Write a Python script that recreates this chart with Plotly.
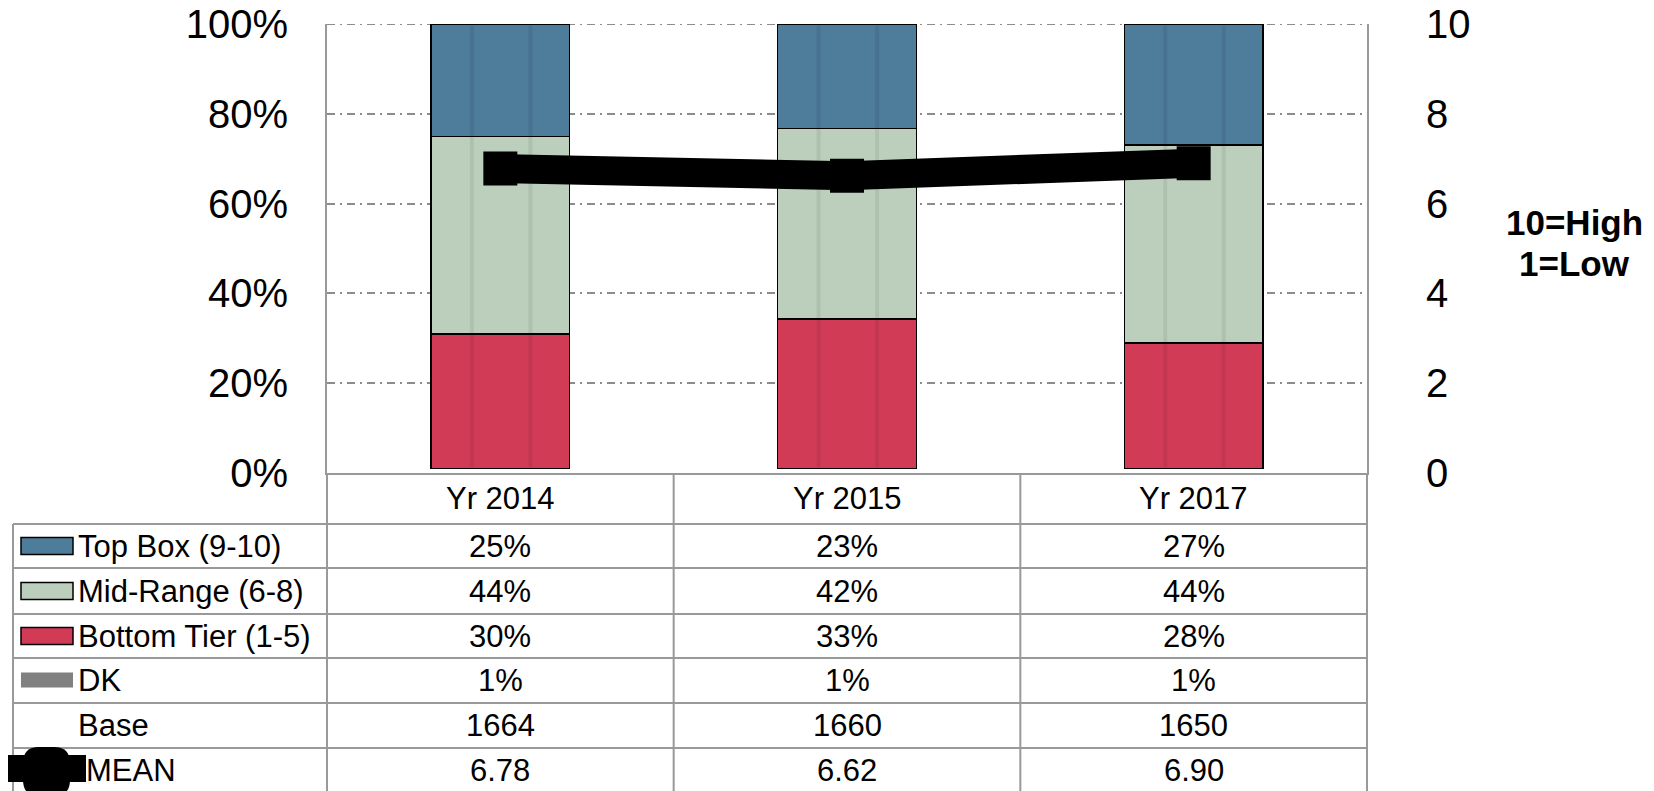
import plotly.graph_objects as go

# ---------------- data ----------------
categories = ["Yr 2014", "Yr 2015", "Yr 2017"]
top_box = [25, 23, 27]
mid_range = [44, 42, 44]
bottom_tier = [30, 33, 28]
dk = [1, 1, 1]
base = [1664, 1660, 1650]
mean = [6.78, 6.62, 6.90]

row_labels = ["Top Box (9-10)", "Mid-Range (6-8)", "Bottom Tier (1-5)", "DK", "Base", "MEAN"]
pct_ticks = [0, 20, 40, 60, 80, 100]
mean_ticks = [0, 2, 4, 6, 8, 10]

# ---------------- style ----------------
C_TOP = "#4E7C9B"
C_MID = "#BCCFBC"
C_BOT = "#D23B56"
C_DK = "#808080"
GRAY = "#999999"
FONT = "Liberation Sans, Arial, sans-serif"

W, H = 1654, 791
PL, PR, PT, PB = 327, 1367, 24, 473
BAR_W = 0.4


def xp(px):
    return (px - PL) / (PR - PL)


def yp(py):
    return (PB - py) / (PB - PT)


xpos = list(range(len(categories)))

fig = go.Figure()

bar_line = dict(color="black", width=1.5)
fig.add_trace(go.Bar(x=xpos, y=dk, width=BAR_W, marker=dict(color="rgba(0,0,0,0)", line=dict(width=0)),
                     name="DK", hoverinfo="skip"))
fig.add_trace(go.Bar(x=xpos, y=bottom_tier, width=BAR_W, marker=dict(color=C_BOT, line=bar_line),
                     name="Bottom Tier (1-5)"))
fig.add_trace(go.Bar(x=xpos, y=mid_range, width=BAR_W, marker=dict(color=C_MID, line=bar_line),
                     name="Mid-Range (6-8)"))
fig.add_trace(go.Bar(x=xpos, y=top_box, width=BAR_W, marker=dict(color=C_TOP, line=bar_line),
                     name="Top Box (9-10)"))

# subtle vertical streaks inside bars (cylinder-like shading)
for frac in (0.295, 0.717):
    sx, sy = [], []
    for i, d in zip(xpos, dk):
        xx = i - BAR_W / 2 + BAR_W * frac
        sx += [xx, xx, None]
        sy += [d + 0.3, 99.7, None]
    fig.add_trace(go.Scatter(x=sx, y=sy, mode="lines", line=dict(color="rgba(0,0,0,0.07)", width=4),
                             hoverinfo="skip", showlegend=False))

fig.add_trace(go.Scatter(x=xpos, y=mean, yaxis="y2", mode="lines+markers",
                         line=dict(color="black", width=29),
                         marker=dict(symbol="square", size=34, color="black"),
                         name="MEAN"))

fig.update_layout(
    width=W, height=H,
    margin=dict(l=PL, r=W - PR, t=PT, b=H - PB, pad=0, autoexpand=False),
    barmode="stack", barnorm="percent",
    plot_bgcolor="white", paper_bgcolor="white",
    showlegend=False,
    font=dict(family=FONT, color="black"),
    xaxis=dict(range=[-0.5, len(categories) - 0.5], showticklabels=False, showgrid=False, zeroline=False,
               showline=True, linecolor=GRAY, linewidth=2, ticks="", automargin=False),
    yaxis=dict(range=[0, 100], tickmode="array", tickvals=pct_ticks,
               ticktext=[f"{v}%" for v in pct_ticks],
               tickfont=dict(size=40, family=FONT, color="black"),
               showgrid=True, gridcolor="#8c8c8c", gridwidth=2, griddash="8px,5px,2px,5px",
               zeroline=False, showline=True, linecolor=GRAY, linewidth=2, ticks="",
               ticklabelstandoff=29, automargin=False),
    yaxis2=dict(range=[0, 10], tickmode="array", tickvals=mean_ticks,
                ticktext=[str(v) for v in mean_ticks], overlaying="y", side="right",
                tickfont=dict(size=40, family=FONT, color="black"),
                showgrid=False, zeroline=False, showline=True, linecolor=GRAY, linewidth=2, ticks="",
                ticklabelstandoff=49, automargin=False),
)

shapes = []
annotations = []

# top gridline (100%) drawn explicitly at the plot's top edge
shapes.append(dict(type="line", xref="paper", yref="y", x0=0, x1=1, y0=pct_ticks[-1], y1=pct_ticks[-1],
                   layer="below", line=dict(color="#8c8c8c", width=2, dash="8px,5px,2px,5px")))

# ---- table grid ----
row_edges = [524, 568, 614, 658, 703, 748]
row_centers = [546, 591, 636, 680, 725, 770]
TL = 13
col_edges_px = [PL + (PR - PL) * k / len(categories) for k in range(len(categories) + 1)]

for y in row_edges:
    shapes.append(dict(type="line", xref="paper", yref="paper", x0=xp(TL), x1=xp(PR), y0=yp(y), y1=yp(y),
                       line=dict(color=GRAY, width=2)))
shapes.append(dict(type="line", xref="paper", yref="paper", x0=xp(TL), x1=xp(TL), y0=yp(524), y1=yp(H + 5),
                   line=dict(color=GRAY, width=2)))
for cx in col_edges_px:
    shapes.append(dict(type="line", xref="paper", yref="paper", x0=xp(cx), x1=xp(cx), y0=yp(PB), y1=yp(H + 5),
                       line=dict(color=GRAY, width=2)))

TF = 31
# header
for i, c in zip(xpos, categories):
    annotations.append(dict(x=i, xref="x", y=yp(498.5), yref="paper", text=c, showarrow=False,
                            font=dict(size=TF, family=FONT, color="black"), xanchor="center", yanchor="middle"))

# values
value_rows = [
    [f"{v}%" for v in top_box],
    [f"{v}%" for v in mid_range],
    [f"{v}%" for v in bottom_tier],
    [f"{v}%" for v in dk],
    [f"{v}" for v in base],
    [f"{v:.2f}" for v in mean],
]
for r, vals in enumerate(value_rows):
    for i, t in zip(xpos, vals):
        annotations.append(dict(x=i, xref="x", y=yp(row_centers[r]), yref="paper", text=t, showarrow=False,
                                font=dict(size=TF, family=FONT, color="black"),
                                xanchor="center", yanchor="middle"))

# row labels
for r, lab in enumerate(row_labels):
    lx = 84 if lab == "MEAN" else 76
    annotations.append(dict(x=xp(lx), xref="paper", y=yp(row_centers[r]), yref="paper", text=lab,
                            showarrow=False, font=dict(size=TF, family=FONT, color="black"),
                            xanchor="left", yanchor="middle"))

# legend keys
for r, col in enumerate([C_TOP, C_MID, C_BOT]):
    cy = row_centers[r]
    shapes.append(dict(type="rect", xref="paper", yref="paper", x0=xp(21), x1=xp(73),
                       y0=yp(cy - 8.5), y1=yp(cy + 8.5), fillcolor=col, line=dict(color="black", width=1.5)))
cy = row_centers[3]
shapes.append(dict(type="rect", xref="paper", yref="paper", x0=xp(21), x1=xp(73),
                   y0=yp(cy - 7.5), y1=yp(cy + 7.5), fillcolor=C_DK, line=dict(width=0)))

# MEAN key: thick line + rounded marker
shapes.append(dict(type="rect", xref="paper", yref="paper", x0=xp(8), x1=xp(86),
                   y0=yp(755), y1=yp(782), fillcolor="black", line=dict(width=0)))


def rounded(x0, y0, x1, y1, r):
    pts = [
        f"M{xp(x0 + r)},{yp(y0)}", f"L{xp(x1 - r)},{yp(y0)}", f"Q{xp(x1)},{yp(y0)} {xp(x1)},{yp(y0 + r)}",
        f"L{xp(x1)},{yp(y1 - r)}", f"Q{xp(x1)},{yp(y1)} {xp(x1 - r)},{yp(y1)}",
        f"L{xp(x0 + r)},{yp(y1)}", f"Q{xp(x0)},{yp(y1)} {xp(x0)},{yp(y1 - r)}",
        f"L{xp(x0)},{yp(y0 + r)}", f"Q{xp(x0)},{yp(y0)} {xp(x0 + r)},{yp(y0)}", "Z",
    ]
    return " ".join(pts)


shapes.append(dict(type="path", xref="paper", yref="paper", path=rounded(23, 747, 70, 796, 16),
                   fillcolor="black", line=dict(width=0)))

# scale note
annotations.append(dict(x=xp(1574), xref="paper", y=yp(222), yref="paper", text="<b>10=High</b>",
                        showarrow=False, font=dict(size=35, family=FONT, color="black"),
                        xanchor="center", yanchor="middle"))
annotations.append(dict(x=xp(1574), xref="paper", y=yp(263), yref="paper", text="<b>1=Low</b>",
                        showarrow=False, font=dict(size=35, family=FONT, color="black"),
                        xanchor="center", yanchor="middle"))

fig.update_layout(shapes=shapes, annotations=annotations)

fig.write_html("out.html", config={"displayModeBar": False},
               post_script="document.body.style.margin='0';document.body.style.overflow='hidden';")
